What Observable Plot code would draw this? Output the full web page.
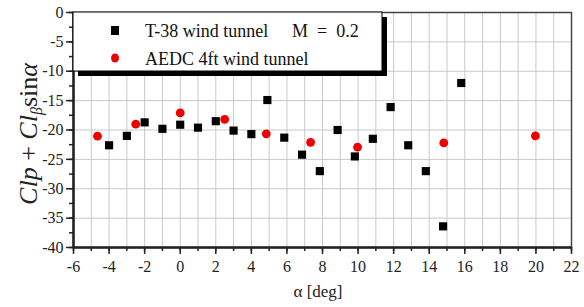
<!DOCTYPE html>
<html><head><meta charset="utf-8">
<script src="https://cdn.jsdelivr.net/npm/d3@7"></script>
<script src="https://cdn.jsdelivr.net/npm/@observablehq/plot@0.6"></script>
<style>body{margin:0;background:#fff} svg text{font-family:"Liberation Serif","Times New Roman",serif !important;}</style>
</head><body><div id="chart"></div>
<script>
const t38Alpha = [-4, -3, -2, -1, 0, 1, 2, 3, 4, 4.9, 5.85, 6.85, 7.85, 8.85, 9.82, 10.83, 11.83, 12.82, 13.81, 14.78, 15.8];
const t38Value = [-22.6, -21.0, -18.7, -19.8, -19.1, -19.6, -18.5, -20.1, -20.7, -14.9, -21.3, -24.2, -27.0, -20.0, -24.5, -21.5, -16.1, -22.6, -27.0, -36.4, -12.0];
const aedcAlpha = [-4.65, -2.5, 0, 2.5, 4.84, 7.33, 9.97, 14.82, 19.97];
const aedcValue = [-21.05, -19.0, -17.1, -18.2, -20.65, -22.1, -22.9, -22.2, -21.0];
const xTicks = [-6, -4, -2, 0, 2, 4, 6, 8, 10, 12, 14, 16, 18, 20, 22];
const yTicks = [0, -5, -10, -15, -20, -25, -30, -35, -40];
const seriesNames = ["T-38 wind tunnel", "AEDC 4ft wind tunnel"];
const machLabel = "M  =  0.2";
const xLabel = "α [deg]";

const t38 = t38Alpha.map((a, i) => ({a, v: t38Value[i]}));
const aedc = aedcAlpha.map((a, i) => ({a, v: aedcValue[i]}));
const minorX = d3.range(-6, 22.01, 1);
const minorY = d3.range(-40, 0.01, 2.5);

const font = "Liberation Serif, Times New Roman, serif";
const axisText = {fontFamily: font, fontSize: 16, fill: "#222"};
const chart = Plot.plot({
  width: 584, height: 307,
  marginLeft: 73, marginRight: 13, marginTop: 12, marginBottom: 60,
  style: {fontFamily: font, fontSize: "16px", color: "#222", background: "#fff"},
  x: {domain: [-6, 22], label: null},
  y: {domain: [-40, 0], label: null},
  marks: [
    Plot.gridX(minorX, {stroke: "#c8c8c8", strokeOpacity: 1}),
    Plot.gridY(yTicks, {stroke: "#c8c8c8", strokeOpacity: 1}),
    Plot.frame({stroke: "#444", strokeWidth: 1.5}),
    Plot.axisX(minorX, {tickSize: 4, text: null, label: null, strokeWidth: 1.5, stroke: "#222"}),
    Plot.axisX(xTicks, {tickSize: 7, tickPadding: 6, tickFormat: d => String(d), label: null, strokeWidth: 1.5, stroke: "#222", ...axisText}),
    Plot.axisY(minorY, {tickSize: 4, text: null, label: null, strokeWidth: 1.5, stroke: "#222"}),
    Plot.axisY(yTicks, {tickSize: 7, tickPadding: 3, tickFormat: d => String(d), label: null, strokeWidth: 1.5, stroke: "#222", ...axisText}),
    Plot.ruleY([-40], {stroke: "#222", strokeWidth: 2.5}),
    Plot.ruleX([-6], {stroke: "#222", strokeWidth: 2.5}),
    Plot.dot(t38, {x: "a", y: "v", symbol: "square", r: 4.6, fill: "#000", stroke: "none"}),
    Plot.dot(aedc, {x: "a", y: "v", r: 4.4, fill: "#ee0000", stroke: "none"})
  ]
});
document.getElementById("chart").appendChild(chart);

const svg = d3.select(chart);
svg.selectAll("text").attr("font-family", font);
const sx = chart.scale("x"), sy = chart.scale("y");
// legend
const L = sx.apply(-6), T = sy.apply(0), R = L + 309, B = T + 59;
const g = svg.append("g").attr("text-anchor", "start").attr("font-family", font);
g.append("rect").attr("x", L + 5).attr("y", T + 5).attr("width", R - L).attr("height", B - T).attr("fill", "#000");
g.append("rect").attr("x", L).attr("y", T).attr("width", R - L).attr("height", B - T).attr("fill", "#fff").attr("stroke", "#000").attr("stroke-width", 1);
g.append("rect").attr("x", L + 38).attr("y", T + 14).attr("width", 8).attr("height", 9).attr("fill", "#000");
g.append("ellipse").attr("cx", L + 42).attr("cy", T + 46).attr("rx", 4).attr("ry", 4.6).attr("fill", "#ee0000");
g.append("text").attr("x", L + 72).attr("y", T + 25).attr("font-size", 18).attr("fill", "#111").text(seriesNames[0]);
g.append("text").attr("x", L + 219).attr("y", T + 25).attr("font-size", 18).attr("fill", "#111").style("white-space", "pre").text(machLabel);
g.append("text").attr("x", L + 72).attr("y", T + 53).attr("font-size", 18).attr("fill", "#111").text(seriesNames[1]);
// x label
svg.append("text").attr("x", 318).attr("y", 297).attr("text-anchor", "middle").attr("font-family", font).attr("font-size", 17).attr("fill", "#222").text(xLabel);
// y label
const yl = svg.append("text").attr("transform", "translate(37,134) rotate(-90)").attr("text-anchor", "middle")
  .attr("font-family", font).attr("font-size", 26).attr("fill", "#222").style("white-space", "pre");
yl.append("tspan").attr("font-style", "italic").text("Clp");
yl.append("tspan").text(" + ");
yl.append("tspan").attr("font-style", "italic").text("Cl");
yl.append("tspan").attr("font-style", "italic").attr("font-size", 16).attr("dy", 5).text("β");
yl.append("tspan").attr("dy", -5).text("sin");
yl.append("tspan").attr("font-style", "italic").text("α");
</script></body></html>
